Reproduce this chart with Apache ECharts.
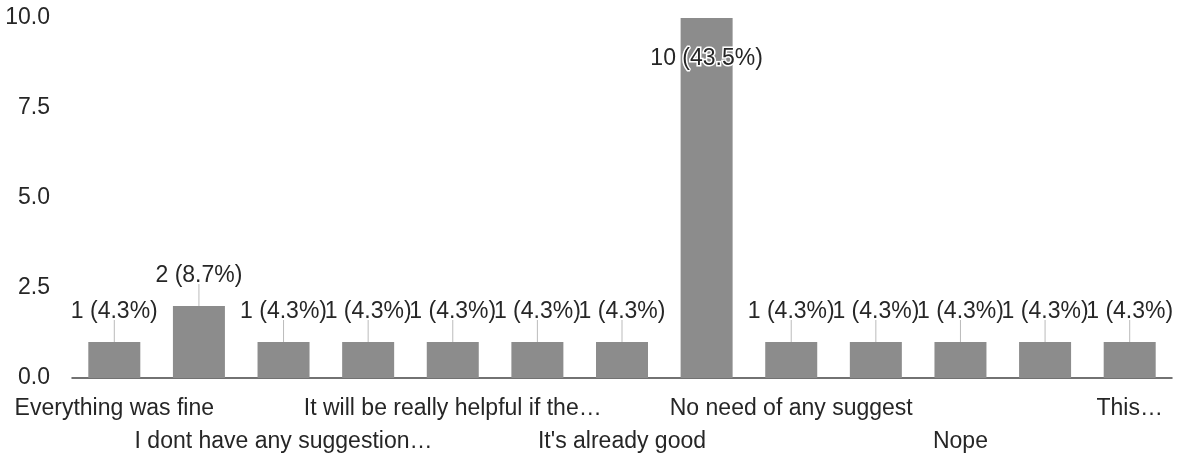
<!DOCTYPE html>
<html>
<head>
<meta charset="utf-8">
<script src="https://cdn.jsdelivr.net/npm/echarts@6/dist/echarts.min.js"></script>
<style>
	html, body { margin: 0; padding: 0; background: #fff; }
	#main { width: 1184px; height: 457px; }
</style>
</head>
<body>
<div id="main"></div>
<script>
//类目（只显示偶数位的标签，奇数位在原图中被隐藏）
var categories = [
	'Everything was fine',
	'No suggestions',
	'I dont have any suggestion…',
	'Nothing',
	'It will be really helpful if the…',
	'All good',
	"It's already good",
	'Nil',
	'No need of any suggest',
	'None',
	'Nope',
	'No',
	'This…'
]
var counts = [1, 2, 1, 1, 1, 1, 1, 10, 1, 1, 1, 1, 1]
var yTicks = [0, 2.5, 5, 7.5, 10]

var total = counts.reduce(function(a, b) { return a + b }, 0)
var maxVal = Math.max.apply(null, counts)

var font = 'Liberation Sans, Arial, sans-serif'
var fs = 23
var textColor = '#262626'

var chart = echarts.init(document.getElementById('main'))

var data = counts.map(function(v) {
	var item = { value: v }
	//最高的柱子标签放在柱内
	if (v == maxVal) {
		item.label = { position: 'insideTop', distance: 29 }
	}
	return item
})

//x轴标签分两行交错，用两条x轴分别显示
function labelAxis(rowIdx, margin, showLine) {
	return {
		type: 'category',
		data: categories,
		position: 'bottom',
		axisLine: { show: showLine, lineStyle: { color: '#444', width: 1.5 } },
		axisTick: { show: false },
		axisLabel: {
			interval: function(idx) { return idx % 4 == rowIdx },
			hideOverlap: false,
			margin: margin,
			fontFamily: font,
			fontSize: fs,
			color: textColor
		}
	}
}

chart.setOption({
	animation: false,
	grid: { left: 72, right: 12, top: 18, bottom: 79 },
	xAxis: [labelAxis(0, 19, true), labelAxis(2, 52, false)],
	yAxis: {
		type: 'value',
		min: yTicks[0],
		max: yTicks[yTicks.length - 1],
		interval: yTicks[1] - yTicks[0],
		splitLine: { show: false },
		axisLine: { show: false },
		axisTick: { show: false },
		axisLabel: {
			margin: 22,
			fontFamily: font,
			fontSize: fs,
			color: textColor,
			formatter: function(v) { return v.toFixed(1) }
		}
	},
	series: [{
		type: 'bar',
		data: data,
		barWidth: 52,
		itemStyle: { color: '#8c8c8c' },
		label: {
			show: true,
			position: 'top',
			distance: 19,
			fontFamily: font,
			fontSize: fs,
			color: textColor,
			textBorderColor: '#fff',
			textBorderWidth: 3,
			formatter: function(p) {
				return p.value + ' (' + (p.value / total * 100).toFixed(1) + '%)'
			}
		}
	}, {
		//引导线
		type: 'custom',
		silent: true,
		z: 1,
		data: counts,
		renderItem: function(params, api) {
			var v = api.value(0)
			var p = api.coord([params.dataIndex, v])
			var y1 = v == maxVal ? p[1] : p[1] - 22
			var y2 = v == maxVal ? p[1] + 28 : p[1]
			return {
				type: 'line',
				shape: { x1: p[0], y1: y1, x2: p[0], y2: y2 },
				style: { stroke: v == maxVal ? '#eee' : '#bbb', lineWidth: 1 }
			}
		},
		encode: { x: -1, y: 0 }
	}]
})
</script>
</body>
</html>
